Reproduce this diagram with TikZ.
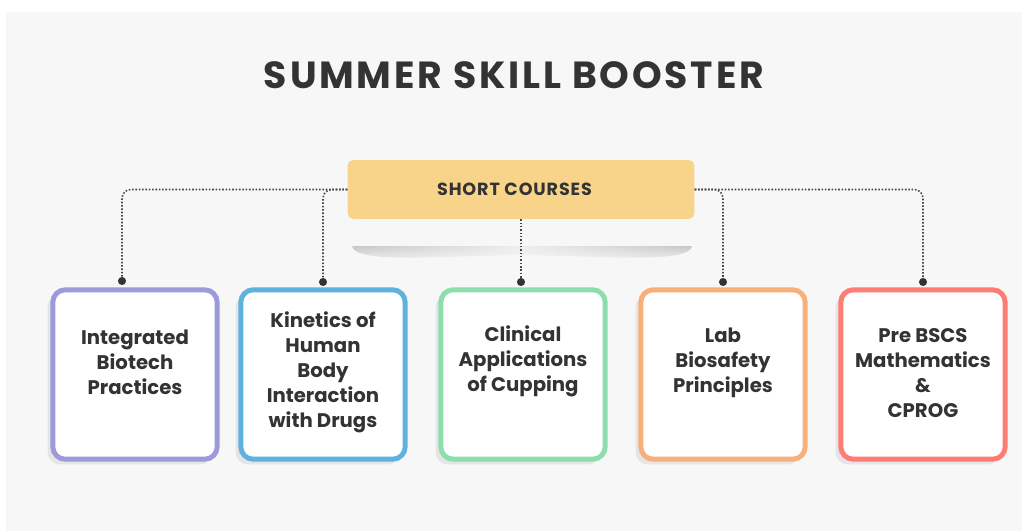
\documentclass[tikz,border=0pt]{standalone}
\usepackage{fontspec}
\setmainfont{Poppins}
\usetikzlibrary{shadows,fadings}
\definecolor{bgcol}{HTML}{F7F7F7}
\definecolor{ink}{HTML}{333333}
\definecolor{gold}{HTML}{F8D38A}
\definecolor{lilac}{HTML}{9B9ADB}
\definecolor{sky}{HTML}{5DB2DE}
\definecolor{mint}{HTML}{8EDDAD}
\definecolor{peach}{HTML}{F8B07A}
\definecolor{coral}{HTML}{FF7C74}
\tikzset{
  course/.style={
    rectangle, draw=#1, line width=2.8pt, fill=white,
    minimum width=93.5pt, minimum height=96.4pt,
    rounded corners=7pt,
    drop shadow={shadow xshift=-3pt, shadow yshift=-3pt, opacity=.15},
  },
  label/.style={
    text=ink, align=center, font=\fontsize{11.2}{14.2}\selectfont\bfseries,
  },
  head/.style={
    rectangle, fill=gold, text=ink,
    minimum width=197.3pt, minimum height=33.4pt, rounded corners=3pt,
    font=\fontsize{10}{12}\selectfont\bfseries\addfontfeatures{LetterSpace=5},
  },
  dot/.style={
    circle, fill=ink, inner sep=0pt, minimum size=4.6pt,
  },
  link/.style={
    draw=ink!90, line width=.9pt, dash pattern=on .9pt off 1pt,
    rounded corners=5pt,
  }
}

\begin{document}
\begin{tikzpicture}[x=0.02cm,y=-0.02cm]
\useasboundingbox (0,0) rectangle (1022,531);
\fill[bgcol] (6,12) rectangle (1022,531);

\node[text=ink, font=\fontsize{21.5}{24}\selectfont\bfseries\addfontfeatures{LetterSpace=7.5}] (title) at (514,75) {SUMMER SKILL BOOSTER};

% shadow under the header
\shade[left color=black!40, right color=black!40, middle color=black!10, opacity=.5, path fading=south]
  (352,246) -- (692,246)
  .. controls (690,264) and (600,256) .. (521,255)
  .. controls (440,256) and (354,264) .. cycle;
\node[head] (sc) at (521,189.5) {SHORT COURSES\kern7.4pt};

\node[course=lilac] (b1) at (135,374.5) {};
\node[course=sky]   (b2) at (323,374.5) {};
\node[course=mint]  (b3) at (523,374.5) {};
\node[course=peach] (b4) at (723,374.5) {};
\node[course=coral] (b5) at (923,374.5) {};

\node[label] (t1) at (135,362) {Integrated\\Biotech\\Practices};
\node[label] (t2) at (323,372) {Kinetics of\\Human\\Body\\Interaction\\with Drugs};
\node[label] (t3) at (523,361) {Clinical\\Applications\\of Cupping};
\node[label] (t4) at (723,363) {Lab\\Biosafety\\Principles};
\node[label] (t5) at (923,373) {Pre BSCS\\Mathematics\\\&\\CPROG};

\node[dot] (d1) at (122,281) {};
\node[dot] (d2) at (323,282) {};
\node[dot] (d3) at (521,282) {};
\node[dot] (d4) at (723,282) {};
\node[dot] (d5) at (923,282) {};

\path[link] (sc.west) -| (d1);
\path[link] (sc.west) -| (d2);
\path[link] (sc.south) -- (d3);
\path[link] (sc.east) -| (d4);
\path[link] (sc.east) -| (d5);
\end{tikzpicture}
\end{document}
